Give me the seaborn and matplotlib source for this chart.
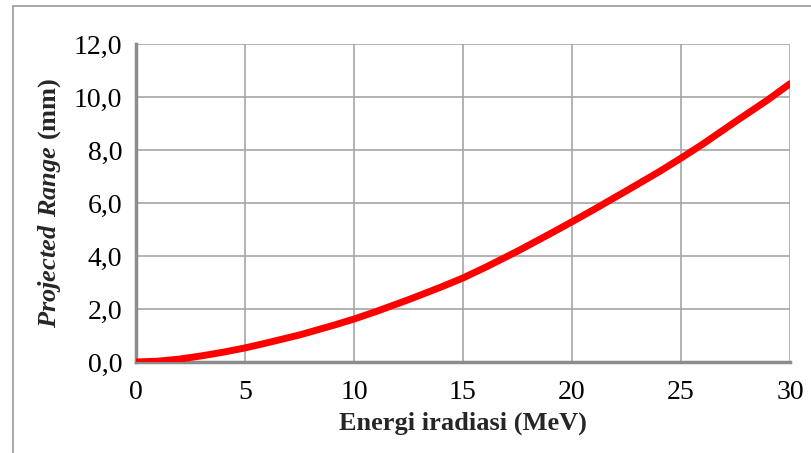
import numpy as np
import pandas as pd
import matplotlib
import matplotlib.pyplot as plt
import seaborn as sns
from matplotlib.lines import Line2D

# values
energi = [0, 1, 2, 3, 4, 5, 6, 7.5, 9, 10, 11, 12.5, 14, 15, 16, 17.5, 19, 20, 21, 22.5,
          24, 25, 26, 27.5, 29, 30]
jangkauan = [0.0, 0.03, 0.11, 0.23, 0.37, 0.53, 0.72, 1.02, 1.37, 1.62, 1.9, 2.35, 2.83,
             3.17, 3.56, 4.18, 4.84, 5.29, 5.75, 6.46, 7.18, 7.69, 8.22, 9.07, 9.9, 10.5]
xticks = [0, 5, 10, 15, 20, 25, 30]
yticks = [0, 2, 4, 6, 8, 10, 12]
ytick_labels = ['0,0', '2,0', '4,0', '6,0', '8,0', '10,0', '12,0']

df = pd.DataFrame({'Energi': energi, 'Range': jangkauan})

sns.set_style('white')
plt.rcParams['font.family'] = ['Liberation Serif', 'DejaVu Serif']
plt.rcParams['mathtext.fontset'] = 'custom'
plt.rcParams['mathtext.rm'] = 'Liberation Serif'
plt.rcParams['mathtext.bf'] = 'Liberation Serif:bold'
plt.rcParams['mathtext.bfit'] = 'Liberation Serif:italic:bold'

fig = plt.figure(figsize=(8.11, 4.53), dpi=100)
ax = fig.add_axes([0.1677, 0.2009, 0.8063, 0.702])

sns.lineplot(data=df, x='Energi', y='Range', color='#ff0000', linewidth=5, ax=ax)

ax.set_xlim(0, 30)
ax.set_ylim(0, 12)
ax.set_xticks(xticks)
ax.set_yticks(yticks)
ax.set_yticklabels(ytick_labels)
ax.grid(True, color='#a6a6a6', linewidth=1.2)
ax.set_axisbelow(True)

for s in ['top', 'right']:
    ax.spines[s].set_visible(False)
for s in ['left', 'bottom']:
    ax.spines[s].set_color('#8c8c8c')
    ax.spines[s].set_linewidth(2.5)
    ax.spines[s].set_zorder(1)
ax.tick_params(axis='both', direction='out', length=5, width=2, color='#8c8c8c',
               labelsize=20, labelcolor='black', pad=5)
ax.tick_params(axis='x', pad=8)

ax.set_xlabel('Energi iradiasi (MeV)', fontsize=19, fontweight='bold', labelpad=5)
ax.set_ylabel(r'$\mathbfit{Projected\ Range}$ (mm)', fontsize=19, fontweight='bold', labelpad=8)

# frame lines of the original chart box
fig.add_artist(Line2D([0.016, 0.016], [0, 0.987], transform=fig.transFigure,
                      color='#a0a0a0', linewidth=1.3))
fig.add_artist(Line2D([0.016, 1], [0.987, 0.987], transform=fig.transFigure,
                      color='#a0a0a0', linewidth=1.3))

plt.savefig('out.png', dpi=100)
